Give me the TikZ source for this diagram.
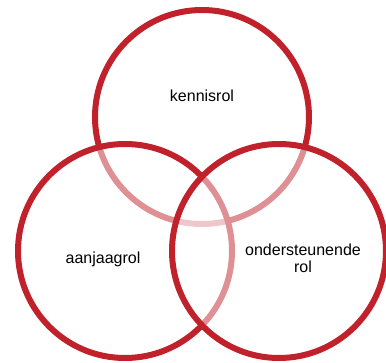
\documentclass[tikz,border=0pt]{standalone}
\usepackage{fontspec}
\setmainfont{Liberation Sans}
\definecolor{venred}{RGB}{192,33,43}
\begin{document}
\begin{tikzpicture}[x=1pt,y=-1pt,
  venn/.style={circle,draw=venred,line width=6pt,fill=white,fill opacity=0.5,draw opacity=1,minimum size=214pt,inner sep=0pt},
  lbl/.style={font=\fontsize{16}{17}\selectfont,align=center,text=black}]
\useasboundingbox (0,0) rectangle (386,362);
\node[venn] (top) at (202,117) {};
\node[venn] (left) at (125,251) {};
\node[venn] (right) at (279,251) {};
\node[lbl] (t1) at (202,96) {kennisrol};
\node[lbl] (t2) at (103,259) {aanjaagrol};
\node[lbl] (t3) at (303,258) {ondersteunende\\rol};
\end{tikzpicture}
\end{document}
